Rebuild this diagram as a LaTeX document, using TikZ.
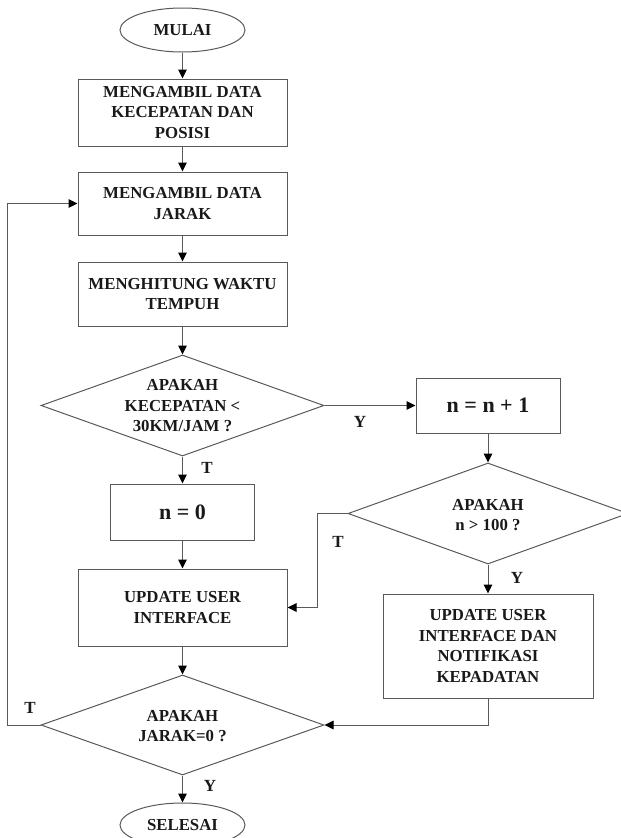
\documentclass[tikz,border=0pt]{standalone}
\usepackage{fontspec}
\setmainfont{Liberation Serif}
\usetikzlibrary{shapes.geometric,arrows.meta}
\begin{document}
\begin{tikzpicture}[x=1pt,y=-1pt,
  line/.style={draw=black!65,line width=1pt},
  arr/.style={line,-{Triangle[length=9pt,width=8.5pt,fill=black,color=black]}},
  txt/.style={font=\fontsize{16.8}{20.5}\selectfont\bfseries,align=center,text=black!90,inner sep=0pt},
  big/.style={font=\fontsize{22}{26}\selectfont\bfseries,text=black!90},
  term/.style={ellipse,line,minimum width=125pt,minimum height=44pt,inner sep=0pt,txt},
  proc/.style={rectangle,line,inner sep=0pt,txt},
  dia/.style={diamond,line,inner sep=0pt},
  lab/.style={font=\fontsize{17}{18}\selectfont\bfseries,text=black!90,inner sep=0pt}]
\useasboundingbox (0,0) rectangle (621,838);
\clip (0,0) rectangle (621,838);
\node[term] (start) at (182.5,30) {MULAI};
\node[proc,minimum width=209pt,minimum height=67pt] (b1) at (182.5,112.5) {MENGAMBIL DATA\\KECEPATAN DAN\\POSISI};
\node[proc,minimum width=209pt,minimum height=63pt] (b2) at (182.5,203.5) {MENGAMBIL DATA\\JARAK};
\node[proc,minimum width=209pt,minimum height=64pt] (b3) at (182.5,294) {MENGHITUNG WAKTU\\TEMPUH};
\node[dia,minimum width=283pt,minimum height=101pt] (d1) at (182.5,405.5) {};
\node[txt] (d1t) at (182.5,406) {APAKAH\\KECEPATAN <\\30KM/JAM ?};
\node[proc,big,minimum width=144pt,minimum height=55pt] (n1) at (488,405.5) {n = n + 1};
\node[dia,minimum width=280pt,minimum height=101pt] (d2) at (488,513.5) {};
\node[txt] (d2t) at (488,515) {APAKAH\\n > 100 ?};
\node[proc,big,minimum width=144pt,minimum height=56pt] (n0) at (182.5,512) {n = 0};
\node[proc,minimum width=209pt,minimum height=77pt] (u1) at (182.5,607.5) {UPDATE USER\\INTERFACE};
\node[proc,minimum width=210pt,minimum height=104pt] (u2) at (488,646) {UPDATE USER\\INTERFACE DAN\\NOTIFIKASI\\KEPADATAN};
\node[dia,minimum width=283pt,minimum height=100pt] (d3) at (182.5,725) {};
\node[txt] (d3t) at (182.5,726) {APAKAH\\JARAK=0 ?};
\node[term] (end) at (182.5,825) {SELESAI};
\coordinate (lp) at (7,725);
\coordinate (rp) at (317,513.5);
\draw[arr] (start) -- (b1);
\draw[arr] (b1) -- (b2);
\draw[arr] (b2) -- (b3);
\draw[arr] (b3.south) -- (d1.north);
\draw[arr] (d1.south) -- (n0.north);
\draw[arr] (n0) -- (u1);
\draw[arr] (u1.south) -- (d3.north);
\draw[arr] (d3.south) -- (end.north);
\draw[arr] (d1.east) -- (n1.west);
\draw[arr] (n1.south) -- (d2.north);
\draw[arr] (d2.south) -- (u2.north);
\draw[arr] (d2.west) -- (rp) |- (u1.east);
\draw[arr] (u2.south) |- (d3.east);
\draw[arr] (d3.west) -- (lp) |- (b2.west);
\node[lab] (ly1) at (360,422) {Y};
\node[lab] (lt1) at (207,468) {T};
\node[lab] (lt2) at (338,542) {T};
\node[lab] (ly2) at (517,578) {Y};
\node[lab] (lt3) at (30,708) {T};
\node[lab] (ly3) at (210,786) {Y};
\end{tikzpicture}
\end{document}
